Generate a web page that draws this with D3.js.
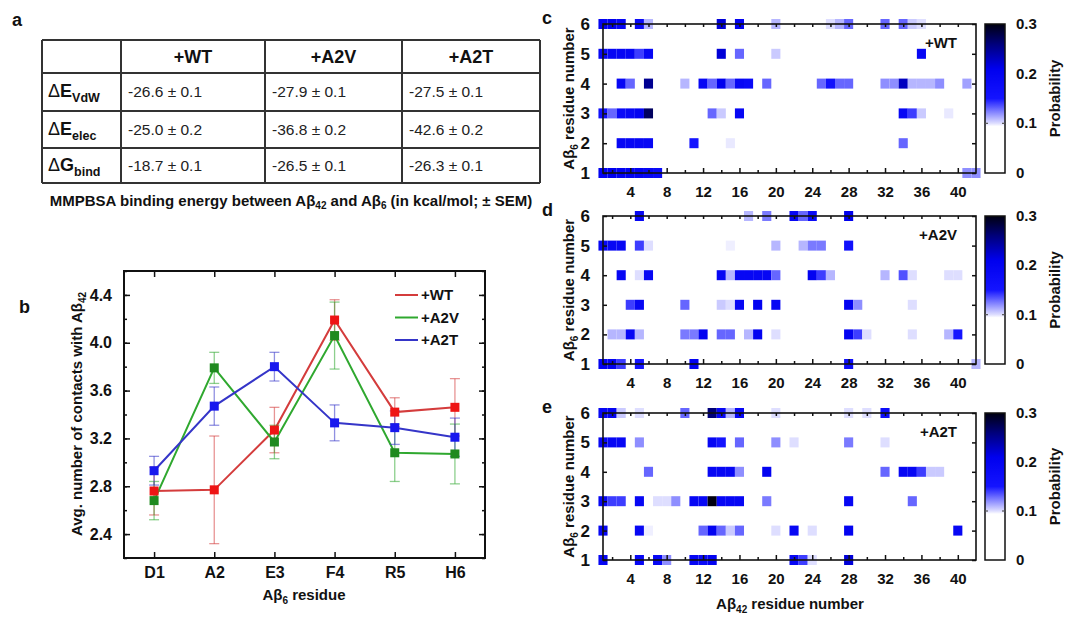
<!DOCTYPE html>
<html>
<head>
<meta charset="utf-8">
<script src="https://cdn.jsdelivr.net/npm/d3@7"></script>
<style>
  body { margin: 0; background: #fff; }
  svg { display: block; font-family: "Liberation Sans", Arial, sans-serif; }
</style>
</head>
<body>
<svg id="fig"></svg>
<script>
const W = 1065, H = 617;

// ---- panel a: MMPBSA table
const tableCols = ["+WT", "+A2V", "+A2T"];
const tableRows = [["E", "VdW"], ["E", "elec"], ["G", "bind"]];
const tableVals = [
  ["-26.6 ± 0.1", "-27.9 ± 0.1", "-27.5 ± 0.1"],
  ["-25.0 ± 0.2", "-36.8 ± 0.2", "-42.6 ± 0.2"],
  ["-18.7 ± 0.1", "-26.5 ± 0.1", "-26.3 ± 0.1"]
];

// ---- panel b: contacts per residue
const residues = ["D1", "A2", "E3", "F4", "R5", "H6"];
const seriesNames = ["+WT", "+A2V", "+A2T"];
const wtMean  = [2.76, 2.77, 3.27, 4.19, 3.42, 3.46];
const wtErr   = [0.20, 0.45, 0.19, 0.17, 0.12, 0.24];
const a2vMean = [2.68, 3.79, 3.17, 4.06, 3.08, 3.07];
const a2vErr  = [0.16, 0.13, 0.14, 0.28, 0.24, 0.25];
const a2tMean = [2.93, 3.47, 3.80, 3.33, 3.29, 3.21];
const a2tErr  = [0.12, 0.16, 0.12, 0.15, 0.14, 0.16];

// ---- panels c-e: contact probability maps [Abeta42 residue, Abeta6 residue, p]
const wtCells = [
  [1,6,.20],[2,6,.21],[3,6,.19],[5,6,.18],[6,6,.11],[14,6,.22],[16,6,.20],[20,6,.11],
  [26,6,.10],[27,6,.11],[28,6,.13],[32,6,.13],[34,6,.13],[35,6,.105],[36,6,.10],
  [1,5,.19],[2,5,.19],[3,5,.19],[4,5,.19],[5,5,.14],[6,5,.19],[14,5,.22],[16,5,.13],[20,5,.105],[36,5,.19],
  [3,4,.19],[4,4,.13],[6,4,.25],[10,4,.11],[12,4,.19],[13,4,.13],[14,4,.21],[15,4,.13],[16,4,.19],
  [17,4,.18],[19,4,.13],[25,4,.13],[26,4,.16],[27,4,.13],[28,4,.13],[32,4,.12],[33,4,.12],
  [34,4,.23],[35,4,.11],[36,4,.11],[37,4,.11],[38,4,.12],[41,4,.115],
  [1,3,.16],[2,3,.13],[3,3,.18],[4,3,.19],[5,3,.20],[6,3,.27],[13,3,.13],[14,3,.105],[16,3,.19],
  [34,3,.19],[35,3,.14],[36,3,.105],[39,3,.098],
  [3,2,.19],[4,2,.19],[5,2,.19],[6,2,.19],[11,2,.15],[15,2,.098],[34,2,.13],
  [1,1,.20],[2,1,.21],[3,1,.20],[4,1,.20],[5,1,.20],[6,1,.19],[7,1,.18],[41,1,.12],[42,1,.12]
];
const a2vCells = [
  [5,6,.19],[17,6,.11],[19,6,.125],[22,6,.19],[23,6,.13],[24,6,.18],[28,6,.21],
  [1,5,.19],[2,5,.19],[3,5,.19],[5,5,.14],[6,5,.10],[15,5,.097],[20,5,.11],[23,5,.11],[24,5,.125],[25,5,.125],[28,5,.16],
  [3,4,.19],[5,4,.10],[6,4,.19],[14,4,.19],[15,4,.11],[16,4,.19],[17,4,.19],[18,4,.19],[19,4,.19],
  [20,4,.13],[24,4,.20],[25,4,.14],[26,4,.11],[32,4,.11],[34,4,.135],[35,4,.10],[39,4,.10],[40,4,.10],
  [4,3,.14],[5,3,.19],[10,3,.13],[14,3,.105],[15,3,.10],[16,3,.19],[18,3,.20],[20,3,.19],[28,3,.20],[29,3,.12],[35,3,.10],
  [2,2,.11],[3,2,.11],[4,2,.19],[5,2,.11],[10,2,.125],[11,2,.125],[12,2,.20],[14,2,.13],[15,2,.13],
  [17,2,.11],[18,2,.20],[20,2,.10],[28,2,.20],[29,2,.14],[30,2,.10],[35,2,.10],[39,2,.11],[40,2,.15],
  [1,1,.20],[2,1,.20],[3,1,.14],[5,1,.15],[11,1,.20],[28,1,.17],[42,1,.11]
];
const a2tCells = [
  [1,6,.19],[2,6,.20],[3,6,.105],[5,6,.10],[10,6,.13],[13,6,.26],[14,6,.19],[15,6,.11],[16,6,.19],
  [20,6,.10],[28,6,.10],[30,6,.10],[32,6,.17],
  [1,5,.19],[2,5,.19],[3,5,.19],[5,5,.12],[13,5,.19],[14,5,.15],[16,5,.13],[20,5,.12],[22,5,.10],[28,5,.125],[32,5,.10],
  [6,4,.13],[13,4,.19],[14,4,.19],[15,4,.19],[16,4,.12],[19,4,.20],[32,4,.13],[34,4,.19],[35,4,.19],
  [36,4,.14],[37,4,.105],[38,4,.105],
  [1,3,.19],[2,3,.14],[3,3,.14],[5,3,.19],[7,3,.10],[8,3,.10],[9,3,.12],[11,3,.19],[12,3,.19],[13,3,.30],
  [14,3,.19],[15,3,.19],[16,3,.19],[19,3,.125],[28,3,.19],[35,3,.13],
  [1,2,.19],[5,2,.19],[6,2,.097],[12,2,.13],[13,2,.20],[14,2,.13],[15,2,.105],[16,2,.13],[20,2,.10],
  [22,2,.19],[24,2,.10],[28,2,.20],[40,2,.19],
  [1,1,.19],[5,1,.19],[7,1,.19],[8,1,.12],[11,1,.19],[12,1,.18],[13,1,.20],[22,1,.19],[23,1,.14],[24,1,.10],[28,1,.22]
];
const probTicks = [0, 0.1, 0.2, 0.3];

const svg = d3.select("#fig").attr("width", W).attr("height", H);
svg.append("rect").attr("width", W).attr("height", H).attr("fill", "#fff");

const bold = sel => sel.attr("font-weight", "bold").attr("fill", "#111");

function panelLetter(t, x, y) {
  svg.append("text").attr("x", x).attr("y", y).attr("font-size", 18).call(bold).text(t);
}

// ================= panel a =================
panelLetter("a", 12, 26);
const colX = [42, 121, 265, 402, 540];
const rowY = [40, 73, 111, 148, 183];
const ta = svg.append("g");
ta.selectAll("line.h").data(rowY).join("line")
  .attr("x1", colX[0]).attr("x2", colX[4]).attr("y1", d => d).attr("y2", d => d)
  .attr("stroke", "#333").attr("stroke-width", 2);
ta.selectAll("line.v").data(colX).join("line")
  .attr("x1", d => d).attr("x2", d => d).attr("y1", rowY[0]).attr("y2", rowY[4])
  .attr("stroke", "#333").attr("stroke-width", 2);
ta.selectAll("text.hd").data(tableCols).join("text")
  .attr("x", (d, i) => (colX[i + 1] + colX[i + 2]) / 2).attr("y", 63)
  .attr("text-anchor", "middle").attr("font-size", 18).call(bold).text(d => d);
tableRows.forEach((r, i) => {
  const y = (rowY[i + 1] + rowY[i + 2]) / 2 + 5;
  const t = ta.append("text").attr("x", 48).attr("y", y).attr("fill", "#111");
  t.append("tspan").attr("font-size", 18).text("Δ");
  t.append("tspan").attr("font-size", 18).attr("font-weight", "bold").text(r[0]);
  t.append("tspan").attr("font-size", 12.5).attr("font-weight", "bold").attr("dy", 5).text(r[1]);
  tableVals[i].forEach((v, j) => {
    ta.append("text").attr("x", colX[j + 1] + 7).attr("y", y)
      .attr("font-size", 15.5).attr("fill", "#222").text(v);
  });
});
const cap = svg.append("text").attr("x", 291).attr("y", 206).attr("text-anchor", "middle")
  .attr("font-size", 15).call(bold);
cap.append("tspan").text("MMPBSA binding energy between Aβ");
cap.append("tspan").attr("font-size", 10).attr("dy", 3).text("42");
cap.append("tspan").attr("dy", -3).text(" and Aβ");
cap.append("tspan").attr("font-size", 10).attr("dy", 3).text("6");
cap.append("tspan").attr("dy", -3).text(" (in kcal/mol; ± SEM)");

// ================= panel b =================
panelLetter("b", 19, 313);
const bx = d3.scaleLinear().domain([0.5, 6.5]).range([124, 485]);
const by = d3.scaleLinear().domain([2.2, 4.6]).range([558, 271]);
const gb = svg.append("g");
const majorY = d3.range(2.4, 4.41, 0.4);
const minorY = d3.range(2.2, 4.61, 0.2);
const xi = d3.range(1, 7);

function styleAxis(g, size) {
  g.select(".domain").remove();
  g.selectAll(".tick line").attr("stroke", "#111").attr("stroke-width", 1.5);
  g.selectAll(".tick text").attr("font-size", size).attr("font-weight", "bold")
    .attr("fill", "#111").attr("font-family", "Liberation Sans, Arial, sans-serif");
}
gb.append("g").attr("transform", "translate(124,0)")
  .call(d3.axisLeft(by).tickValues(majorY).tickSize(-6).tickPadding(12).tickFormat(d3.format(".1f")))
  .call(g => styleAxis(g, 16));
gb.append("g").attr("transform", "translate(124,0)")
  .call(d3.axisLeft(by).tickValues(minorY).tickSize(-3).tickFormat(""))
  .call(g => styleAxis(g, 16));
gb.append("g").attr("transform", "translate(485,0)")
  .call(d3.axisRight(by).tickValues(majorY).tickSize(-6).tickFormat(""))
  .call(g => styleAxis(g, 16));
gb.append("g").attr("transform", "translate(485,0)")
  .call(d3.axisRight(by).tickValues(minorY).tickSize(-3).tickFormat(""))
  .call(g => styleAxis(g, 16));
gb.append("g").attr("transform", "translate(0,558)")
  .call(d3.axisBottom(bx).tickValues(xi).tickSize(-6).tickPadding(9).tickFormat(d => residues[d - 1]))
  .call(g => styleAxis(g, 16));
gb.append("g").attr("transform", "translate(0,271)")
  .call(d3.axisTop(bx).tickValues(xi).tickSize(-6).tickFormat(""))
  .call(g => styleAxis(g, 16));
gb.append("rect").attr("x", 124).attr("y", 271).attr("width", 361).attr("height", 287)
  .attr("fill", "none").attr("stroke", "#111").attr("stroke-width", 2);

const series = [
  { name: seriesNames[0], mean: wtMean, err: wtErr, line: "#d43c3c", mark: "#ee1515" },
  { name: seriesNames[1], mean: a2vMean, err: a2vErr, line: "#2fa82f", mark: "#1f8a1f" },
  { name: seriesNames[2], mean: a2tMean, err: a2tErr, line: "#3535c8", mark: "#1818ee" }
];
const lineGen = d3.line().x((d, i) => bx(i + 1)).y(d => by(d));
series.forEach(s => {
  const g = gb.append("g");
  s.mean.forEach((m, i) => {
    const x = bx(i + 1), e = s.err[i];
    g.append("line").attr("x1", x).attr("x2", x).attr("y1", by(m - e)).attr("y2", by(m + e))
      .attr("stroke", s.line).attr("stroke-opacity", 0.55).attr("stroke-width", 1.3);
    [m - e, m + e].forEach(v => g.append("line").attr("x1", x - 5).attr("x2", x + 5)
      .attr("y1", by(v)).attr("y2", by(v)).attr("stroke", s.line).attr("stroke-opacity", 0.55).attr("stroke-width", 1.3));
  });
  g.append("path").attr("d", lineGen(s.mean)).attr("fill", "none")
    .attr("stroke", s.line).attr("stroke-width", 2);
});
series.forEach(s => {
  gb.append("g").selectAll("rect").data(s.mean).join("rect")
    .attr("x", (d, i) => bx(i + 1) - 4.5).attr("y", d => by(d) - 4.5)
    .attr("width", 9).attr("height", 9).attr("fill", s.mark);
});
series.forEach((s, i) => {
  const y = 295 + i * 22.5;
  gb.append("line").attr("x1", 395).attr("x2", 418).attr("y1", y).attr("y2", y)
    .attr("stroke", s.line).attr("stroke-width", 2);
  gb.append("text").attr("x", 421).attr("y", y + 5).attr("font-size", 15).call(bold).text(s.name);
});
const byt = svg.append("text").attr("transform", "translate(82,414) rotate(-90)")
  .attr("text-anchor", "middle").attr("font-size", 15).call(bold);
byt.append("tspan").text("Avg. number of contacts with Aβ");
byt.append("tspan").attr("font-size", 10).attr("dy", 4).text("42");
const bxt = svg.append("text").attr("x", 304).attr("y", 600).attr("text-anchor", "middle")
  .attr("font-size", 15).call(bold);
bxt.append("tspan").text("Aβ");
bxt.append("tspan").attr("font-size", 10).attr("dy", 4).text("6");
bxt.append("tspan").attr("dy", -4).text(" residue");

// ================= panels c-e =================
const color = d3.scaleLinear()
  .domain([0, 0.094, 0.1, 0.125, 0.15, 0.21, 0.26, 0.3])
  .range(["#ffffff", "#ffffff", "#dedeff", "#7a7aff", "#1414ff", "#0000ee", "#00007a", "#000010"]);
const hx = d3.scaleLinear().domain([1, 42]).range([603, 976]);
const cellW = hx(2) - hx(1), cellH = 10;

// shared colour gradient
const defs = svg.append("defs");
const grad = defs.append("linearGradient").attr("id", "pgrad")
  .attr("x1", 0).attr("y1", 1).attr("x2", 0).attr("y2", 0);
d3.range(0, 0.3001, 0.002).forEach(v => {
  grad.append("stop").attr("offset", v / 0.3).attr("stop-color", color(v));
});

function heatPanel(cells, top, bottom, letter, tag) {
  const hy = d3.scaleLinear().domain([1, 6]).range([bottom, top]);
  const g = svg.append("g");
  panelLetter(letter, 542, top);
  g.selectAll("rect.cell").data(cells).join("rect")
    .attr("x", d => hx(d[0]) - cellW / 2).attr("y", d => hy(d[1]) - cellH / 2)
    .attr("width", cellW).attr("height", cellH).attr("fill", d => color(d[2]));
  g.append("g").attr("transform", `translate(0,${bottom})`)
    .call(d3.axisBottom(hx).tickValues(d3.range(4, 41, 4)).tickSize(-5).tickPadding(13))
    .call(a => styleAxis(a, 15));
  g.append("g").attr("transform", `translate(0,${bottom})`)
    .call(d3.axisBottom(hx).tickValues(d3.range(2, 41, 4)).tickSize(-3).tickFormat(""))
    .call(a => styleAxis(a, 15));
  g.append("g").attr("transform", `translate(0,${top})`)
    .call(d3.axisTop(hx).tickValues(d3.range(2, 41, 2)).tickSize(-3).tickFormat(""))
    .call(a => styleAxis(a, 15));
  g.append("g").attr("transform", "translate(603,0)")
    .call(d3.axisLeft(hy).tickValues(d3.range(1, 7)).tickSize(-4).tickPadding(13).tickFormat(d3.format("d")))
    .call(a => styleAxis(a, 17));
  g.append("g").attr("transform", "translate(976,0)")
    .call(d3.axisRight(hy).tickValues(d3.range(1, 7)).tickSize(-4).tickFormat(""))
    .call(a => styleAxis(a, 15));
  g.append("rect").attr("x", 603).attr("y", top).attr("width", 373).attr("height", bottom - top)
    .attr("fill", "none").attr("stroke", "#111").attr("stroke-width", 1.6);
  g.append("text").attr("x", 957).attr("y", top + 24).attr("text-anchor", "end")
    .attr("font-size", 15).call(bold).text(tag);
  const yt = g.append("text").attr("transform", `translate(574,${(top + bottom) / 2}) rotate(-90)`)
    .attr("text-anchor", "middle").attr("font-size", 15).call(bold);
  yt.append("tspan").text("Aβ");
  yt.append("tspan").attr("font-size", 10).attr("dy", 4).text("6");
  yt.append("tspan").attr("dy", -4).text(" residue number");

  // colour bar
  const cy = d3.scaleLinear().domain([0, 0.3]).range([bottom, top]);
  g.append("rect").attr("x", 985).attr("y", top).attr("width", 20).attr("height", bottom - top)
    .attr("fill", "url(#pgrad)").attr("stroke", "#111").attr("stroke-width", 1.5);
  [985, 1005].forEach(x => g.append("line").attr("x1", x).attr("x2", x + (x === 985 ? 3 : -3))
    .attr("y1", cy(0.1)).attr("y2", cy(0.1)).attr("stroke", "#555").attr("stroke-width", 1.2));
  g.selectAll("text.pt").data(probTicks).join("text")
    .attr("x", 1016).attr("y", d => cy(d) + 5).attr("font-size", 15).call(bold)
    .text(d => d === 0 ? "0" : d3.format(".1f")(d));
  g.append("text").attr("transform", `translate(1060,${(top + bottom) / 2}) rotate(-90)`)
    .attr("text-anchor", "middle").attr("font-size", 15).call(bold).text("Probability");
}

heatPanel(wtCells, 24, 173, "c", "+WT");
heatPanel(a2vCells, 216, 364, "d", "+A2V");
heatPanel(a2tCells, 413, 560, "e", "+A2T");

const ext = svg.append("text").attr("x", 790).attr("y", 609).attr("text-anchor", "middle")
  .attr("font-size", 15).call(bold);
ext.append("tspan").text("Aβ");
ext.append("tspan").attr("font-size", 10).attr("dy", 4).text("42");
ext.append("tspan").attr("dy", -4).text(" residue number");
</script>
</body>
</html>
